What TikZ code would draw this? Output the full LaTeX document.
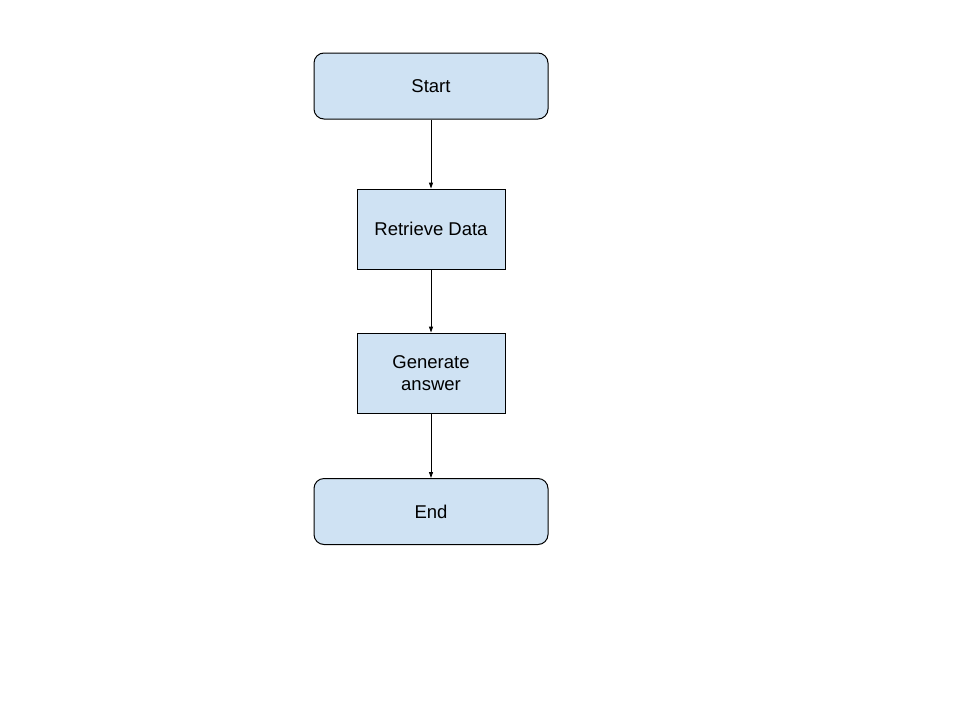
\documentclass[tikz,border=0pt]{standalone}
\usepackage{fontspec}
\setmainfont{Liberation Sans}
\usetikzlibrary{arrows.meta}
\definecolor{boxblue}{HTML}{CFE2F3}

\begin{document}
\begin{tikzpicture}[x=1pt,y=-1pt,
    every node/.style={font=\fontsize{18.5}{22}\selectfont, align=center},
    terminal/.style={draw=black, line width=1pt, fill=boxblue, rounded corners=10pt, minimum width=234pt, minimum height=66pt},
    process/.style={draw=black, line width=0.9pt, fill=boxblue, minimum width=148pt, minimum height=80pt},
    link/.style={line width=0.9pt, -{Triangle[length=6pt,width=4pt]}}]
    \useasboundingbox (0,0) rectangle (960,720);
    \node[terminal] (start) at (431,86) {Start};
    \node[process] (retrieve) at (431,229) {Retrieve Data};
    \node[process] (generate) at (431,373) {Generate\\answer};
    \node[terminal] (end) at (431,511.5) {End};

    \draw[link] (start) -- (retrieve);
    \draw[link] (retrieve) -- (generate);
    \draw[link] (generate) -- (end);
\end{tikzpicture}
\end{document}
